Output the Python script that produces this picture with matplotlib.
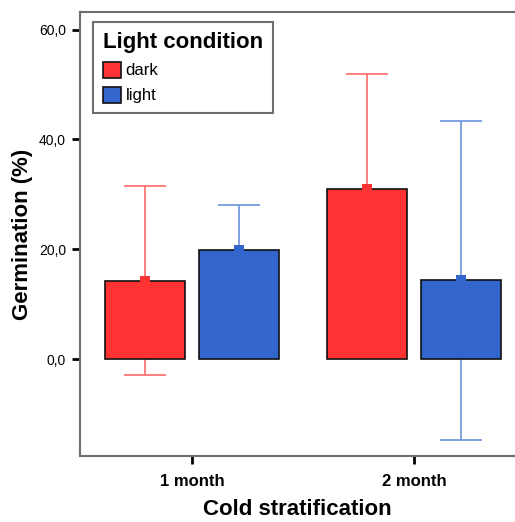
import numpy as np
import matplotlib
matplotlib.use("Agg")
import matplotlib.pyplot as plt
from matplotlib.patches import Patch

plt.rcParams['font.family'] = ['Liberation Sans', 'DejaVu Sans']

# values
groups = ['1 month', '2 month']
conditions = ['dark', 'light']
dark_mean = [14.3, 30.9]
dark_err = [17.2, 21.0]
light_mean = [19.9, 14.4]
light_err = [8.2, 29.0]
yticks = [0, 20, 40, 60]

bar_col = {'dark': '#ff3333', 'light': '#3366cc'}
err_col = {'dark': '#ff6b6b', 'light': '#6b93dd'}

fig = plt.figure(figsize=(5.15, 5.22), dpi=100)
ax = fig.add_axes([80/515, 66/522, 435/515, 444/522])

x = np.arange(len(groups))
width = 0.36
offset = 0.212

for cond, means, errs, sign in [('dark', dark_mean, dark_err, -1), ('light', light_mean, light_err, 1)]:
    xpos = x + sign * offset
    ax.errorbar(xpos, means, yerr=errs, fmt='none', ecolor=err_col[cond],
                elinewidth=1.2, capsize=15, capthick=1.2, zorder=1)
    ax.bar(xpos, means, width=width, color=bar_col[cond], edgecolor='#111111',
           linewidth=1.2, zorder=2)
    # small mean marker sitting on top of each bar
    ax.plot(xpos, means, linestyle='none', marker='s', markersize=7,
            color=bar_col[cond], markeredgewidth=0, zorder=3)

ax.set_xlim(-0.505, 1.455)
ax.set_ylim(-17.6, 63.2)
ax.set_xticks(x)
ax.set_xticklabels(groups, fontsize=12, fontweight='bold')
ax.set_yticks(yticks)
ax.set_yticklabels([f'{v:.1f}'.replace('.', ',') for v in yticks], fontsize=10)
ax.tick_params(axis='both', length=6, width=2, color='black', direction='out')
ax.tick_params(axis='y', pad=4)
ax.tick_params(axis='x', pad=7)

for side in ['left', 'bottom', 'top']:
    ax.spines[side].set_color('#6e6e6e')
    ax.spines[side].set_linewidth(1.5)
ax.spines['right'].set_visible(False)

ax.set_ylabel('Germination (%)', fontsize=16, fontweight='bold', labelpad=4)
ax.set_xlabel('Cold stratification', fontsize=16, fontweight='bold', labelpad=7)

handles = [Patch(facecolor=bar_col[c], edgecolor='#111111', linewidth=1.2, label=c) for c in conditions]
leg = ax.legend(handles=handles, title='Light condition', loc='upper left',
                bbox_to_anchor=(0.03, 0.977), borderaxespad=0, fontsize=12,
                title_fontproperties={'weight': 'bold', 'size': 16},
                alignment='left', fancybox=False, framealpha=1,
                edgecolor='#6e6e6e', handlelength=1.1, handleheight=1.1,
                handletextpad=0.25, labelspacing=0.5, borderpad=0.6)
leg.get_frame().set_linewidth(1.5)

fig.savefig('out.png', dpi=100)
